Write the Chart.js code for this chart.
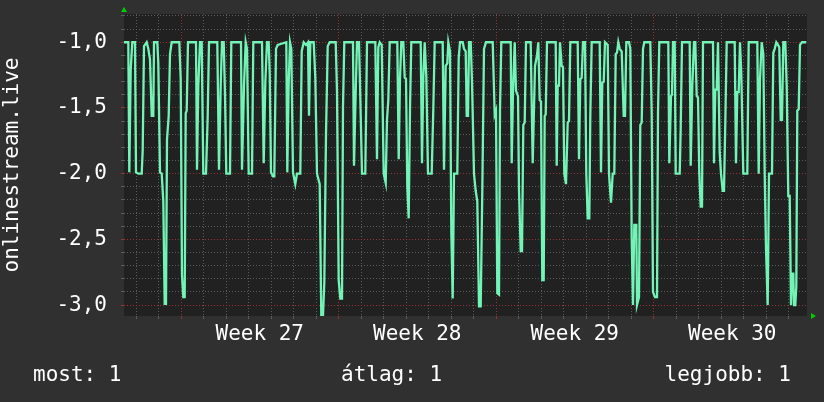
<!DOCTYPE html>
<html>
<head>
<meta charset="utf-8">
<script src="https://cdn.jsdelivr.net/npm/chart.js@4.4.1/dist/chart.umd.min.js"></script>
<style>
  body { margin: 0; background: #303030; }
  #wrap { width: 824px; height: 402px; }
</style>
</head>
<body>
<div id="wrap"><canvas id="chart" width="824" height="402"></canvas></div>
<script>
// time in rrd steps (1 step ~ 64 min), 22.5 steps per day
const steps = [
  0, 4.3, 5.3, 6.7, 8.3, 11, 12, 14.3, 17.7, 18.7, 20, 22.7, 24.3, 26, 27.7, 29.3, 30,
  33.3, 34.3, 36, 37.7, 39.3, 40.7, 42, 43, 44.7, 46, 47.7, 55.3, 56.7, 58, 59.3, 60.7,
  61.7, 62.7, 64, 72, 73, 74.3, 76, 77.7, 79.3, 82, 83.7, 85, 93.3, 95, 96.7, 98, 99.7,
  101, 102.3, 106, 107.3, 117, 118, 120, 121.7, 123, 124.7, 128, 129.3,
  138, 139.7, 141.3, 143, 144.7, 145.7, 147, 149, 150.3, 152, 153.7, 162.3, 163.3, 164.7,
  166, 167.3, 169, 171.3, 173, 176.3, 177.7, 179.7, 182, 184, 185, 186.3, 189.7, 191.3,
  193, 195.7, 197.3, 199, 200.3, 202, 203.7, 205.7, 211.7, 213, 214.7, 216.3, 218, 219,
  220.3, 229, 230, 231.7, 233, 235, 236, 238, 241.3, 243, 251.3, 253, 254.3, 255.7,
  257.7, 259.7, 261.7, 263, 264.3, 265.7,
  273.3, 274.7, 276, 277.3, 279.3, 280.7, 282, 283.3, 284.7, 286, 287.3, 296.7, 298,
  299.3, 300.7, 302.3, 304, 307.7, 309.3, 310.7, 318.7, 320, 321.7, 323.3, 324.3, 326,
  327.3, 328.7, 330, 333.3, 334.7, 336, 338.7, 340, 341.7, 342.7, 344, 345, 346.7, 348,
  350, 351.7, 353.3, 355, 356.7, 358.3, 360, 362, 368.7, 370.7, 372, 373.3, 375, 376,
  377.3, 386.7, 387.7, 389, 390.7, 392, 394, 395, 396.7, 398, 399.3, 400.7, 402, 406.7,
  408.7, 411, 413, 414.3, 415.7, 417, 418.3, 419.7, 420.7, 421.7, 423, 431.7, 432.7,
  433.7, 435, 436, 437.7, 439, 440.3, 442, 443.7, 445, 446.3, 453.7, 455, 456.3, 457.7,
  459, 461, 462.3, 463.7, 465.3, 466.3, 467.7, 475.7, 477, 478.3, 479.7, 481, 483.7, 485,
  487, 488.7, 490.3, 491.7, 493, 494.3, 495.7, 497.7, 499.7, 501, 502.3, 505, 506.3,
  507.7, 509, 510.3, 512.3, 513, 515, 516.3, 517.7, 519, 520.3, 526.3, 527.7, 529, 531,
  533, 534, 535.3, 544.3,
  545.3, 547, 548, 549, 550.7, 551.7, 555.7, 556.7, 558, 565.7, 566.7, 568.3, 570, 571.3,
  572.7, 574, 575.3, 576.7, 578, 579, 589, 590, 591.3, 592.7, 594, 595.7, 597, 598.7, 600,
  601.3, 602.7, 610.7, 612, 613.3, 614.7, 616, 617.3, 619.3, 623.3, 624.7, 633.3, 634.7,
  636, 637.7, 639.3, 640.7, 642, 643.7, 645, 648, 649.3, 650.7, 652.3, 654, 655.3, 656.7,
  658, 659.3, 661.3, 662.7, 664.3, 665.7, 667, 668, 669.3, 670, 671.3, 672.3, 673.3,
  674.7, 676, 678, 682.3
];
const values = [
  -1.0, -1.0, -1.99, -1.21, -1.0, -1.0, -1.99, -2.0, -2.0, -1.82, -1.03, -1.0, -1.05, -1.13, -1.56, -1.56, -1.0,
  -1.0, -1.16, -1.99, -2.0, -2.21, -2.99, -2.99, -1.74, -1.56, -1.09, -1.0, -1.0, -1.28, -2.77, -2.94, -2.94,
  -1.54, -1.52, -1.0, -1.0, -1.97, -1.33, -1.0, -1.0, -2.0, -2.0, -1.56, -1.0, -1.0, -1.97, -1.33, -1.0, -1.0,
  -1.40, -2.0, -2.0, -1.0, -1.0, -1.97, -1.33, -1.0, -1.05, -2.0, -2.0, -1.0,
  -1.0, -1.92, -1.31, -1.0, -1.0, -1.23, -1.99, -2.02, -2.02, -1.05, -1.02, -1.0, -1.99, -1.31,
  -1.0, -1.05, -1.99, -2.08, -2.0, -2.0, -1.07, -1.0, -1.02, -1.0, -1.56, -1.0, -1.0, -1.27,
  -2.0, -2.08, -3.08, -3.08, -2.83, -1.70, -1.03, -1.0, -1.0, -1.37, -2.81, -2.95, -2.95, -1.49,
  -1.0, -1.0, -1.94, -1.38, -1.0, -1.0, -1.32, -2.0, -2.0, -1.0, -1.0, -1.89, -1.04, -1.0,
  -1.02, -2.0, -2.07, -1.59, -1.44, -1.0,
  -1.0, -1.89, -1.28, -1.0, -1.0, -1.27, -1.28, -2.10, -2.34, -1.51, -1.0, -1.0, -1.92,
  -1.26, -1.0, -1.26, -2.0, -2.0, -1.51, -1.0, -1.0, -1.97, -1.18, -1.16, -1.0, -1.07,
  -2.44, -2.95, -2.0, -2.0, -1.12, -1.0, -1.0, -1.05, -1.07, -1.56, -1.56, -1.0, -1.0, -1.30,
  -2.0, -2.13, -2.21, -3.01, -3.01, -2.13, -1.05, -1.0, -1.0, -1.55, -1.52, -2.91, -2.92, -1.52,
  -1.0, -1.0, -1.92, -1.37, -1.0, -1.37, -1.41, -2.12, -2.59, -2.59, -1.63, -1.61, -1.0, -1.0,
  -1.92, -1.18, -1.10, -1.0, -1.44, -1.45, -2.81, -2.81, -1.56, -1.55, -1.0, -1.0, -1.94,
  -1.33, -1.33, -1.0, -1.18, -1.19, -2.0, -2.08, -1.61, -1.60, -1.0, -1.0, -1.89, -1.28, -1.27,
  -1.0, -1.0, -2.0, -2.34, -2.34, -1.56, -1.0, -1.0, -1.99, -1.31, -1.30, -1.0, -1.02, -2.0,
  -2.22, -2.0, -2.0, -1.09, -1.08, -1.0, -1.05, -1.07, -1.56, -1.56, -1.0, -1.0, -1.05,
  -2.50, -3.0, -2.39, -2.39, -3.0, -2.94, -1.63, -1.61, -1.05, -1.0, -1.0, -1.54, -2.90, -2.94,
  -2.94, -1.54, -1.0, -1.0,
  -1.92, -1.41, -1.40, -1.0, -1.0, -2.0, -2.0, -1.66, -1.0, -1.0, -1.94, -1.33, -1.0, -1.0,
  -1.41, -1.42, -2.0, -2.25, -2.25, -1.0, -1.0, -1.92, -1.36, -1.36, -1.0, -1.84, -2.0, -2.13, -2.13,
  -1.61, -1.0, -1.0, -1.92, -1.38, -1.38, -1.0, -1.24, -2.0, -2.0, -1.0, -1.0, -2.0,
  -1.28, -1.0, -1.09, -2.0, -2.57, -3.0, -2.0, -2.0, -1.08, -1.05, -1.0, -1.02, -1.04, -1.59,
  -1.59, -1.0, -1.0, -1.33, -2.17, -2.17, -3.0, -2.76, -2.76, -3.0, -3.0, -2.86, -1.52,
  -1.51, -1.02, -1.0, -1.0
];

const weekLabels = ['Week 27', 'Week 28', 'Week 29', 'Week 30'];
const weekStarts = [57, 214.5, 372, 529.5];
const dayLines = [];
for (let s = 12; s < 683; s += 22.5) dayLines.push(s);
const weekCenters = weekStarts.map(s => s + 78.75);
const yTicks = [];
for (let i = 8; i <= 30; i++) yTicks.push(-i / 10);
const legendLabels = ['most: 1', 'átlag: 1', 'legjobb: 1'];
const axisTitle = 'onlinestream.live';

const FONT = 'DejaVu Sans Mono';
const GRID = '#5c5c5c';
const MAJOR = '#943434';

function isWeekStart(v) { return weekStarts.some(w => Math.abs(w - v) < 1e-6); }
function isWeekCenter(v) { return weekCenters.some(w => Math.abs(w - v) < 1e-6); }
function isHalf(v) { return Math.abs(v * 2 - Math.round(v * 2)) < 1e-6; }

const points = steps.map((s, i) => ({x: s, y: values[i]}));

function noPad(s) {
  s.paddingTop = 0;
  s.paddingBottom = 0;
  s.paddingLeft = 0;
  s.paddingRight = 0;
}

const frame = {
  id: 'frame',
  beforeDraw(chart) {
    const {ctx, chartArea: a} = chart;
    ctx.save();
    ctx.fillStyle = '#212121';
    ctx.fillRect(a.left, a.top, a.right - a.left, a.bottom - a.top);
    ctx.restore();
  },
  afterDraw(chart) {
    const {ctx, chartArea: a} = chart;
    ctx.save();
    // rrd style arrows
    ctx.fillStyle = '#00cc00';
    ctx.beginPath();
    ctx.moveTo(a.left, a.top - 7);
    ctx.lineTo(a.left - 3, a.top - 2);
    ctx.lineTo(a.left + 3, a.top - 2);
    ctx.fill();
    ctx.beginPath();
    ctx.moveTo(a.right + 9, a.bottom);
    ctx.lineTo(a.right + 4, a.bottom - 3);
    ctx.lineTo(a.right + 4, a.bottom + 3);
    ctx.fill();
    // legend line
    ctx.fillStyle = '#ffffff';
    ctx.font = '21px "' + FONT + '"';
    ctx.textBaseline = 'alphabetic';
    ctx.textAlign = 'left';
    ctx.fillText(legendLabels[0], 33, 381);
    ctx.fillText(legendLabels[1], 341, 381);
    ctx.textAlign = 'right';
    ctx.fillText(legendLabels[2], 791, 381);
    ctx.restore();
  }
};

new Chart(document.getElementById('chart'), {
  type: 'line',
  data: {
    datasets: [{
      data: points,
      borderColor: '#72f4b6',
      borderWidth: 2.3,
      pointRadius: 0,
      tension: 0,
      fill: false
    }]
  },
  options: {
    responsive: false,
    animation: false,
    layout: {padding: {top: 14, right: 17, left: 0, bottom: 0}},
    plugins: {legend: {display: false}, tooltip: {enabled: false}},
    scales: {
      x: {
        type: 'linear',
        min: 0,
        max: 683,
        afterBuildTicks: s => { s.ticks = dayLines.concat(weekCenters).sort((a, b) => a - b).map(v => ({value: v})); },
        afterFit: s => { s.height = 86; noPad(s); },
        ticks: {
          autoSkip: false,
          maxRotation: 0,
          minRotation: 0,
          padding: 3,
          color: '#ffffff',
          font: {family: FONT, size: 21},
          callback: v => {
            const i = weekCenters.findIndex(w => Math.abs(w - v) < 1e-6);
            return i >= 0 ? weekLabels[i] : '';
          }
        },
        grid: {
          color: c => isWeekCenter(c.tick.value) ? 'rgba(0,0,0,0)' : (isWeekStart(c.tick.value) ? MAJOR : GRID),
          tickLength: 3,
          lineWidth: 1
        },
        border: {display: false, dash: [1, 2]}
      },
      y: {
        type: 'linear',
        min: -3.083,
        max: -0.785,
        afterBuildTicks: s => { s.ticks = yTicks.map(v => ({value: v})); },
        afterFit: s => { s.width = 124; noPad(s); },
        ticks: {
          autoSkip: false,
          padding: 14,
          color: '#ffffff',
          font: {family: FONT, size: 21},
          callback: v => isHalf(v) ? v.toFixed(1).replace('.', ',') : ''
        },
        grid: {
          color: c => isHalf(c.tick.value) ? MAJOR : GRID,
          tickLength: 3,
          lineWidth: 1
        },
        border: {display: false, dash: [1, 2]},
        title: {
          display: true,
          text: axisTitle,
          color: '#ffffff',
          font: {family: FONT, size: 21},
          padding: {top: 0, bottom: 0}
        }
      }
    }
  },
  plugins: [frame]
});
</script>
</body>
</html>
